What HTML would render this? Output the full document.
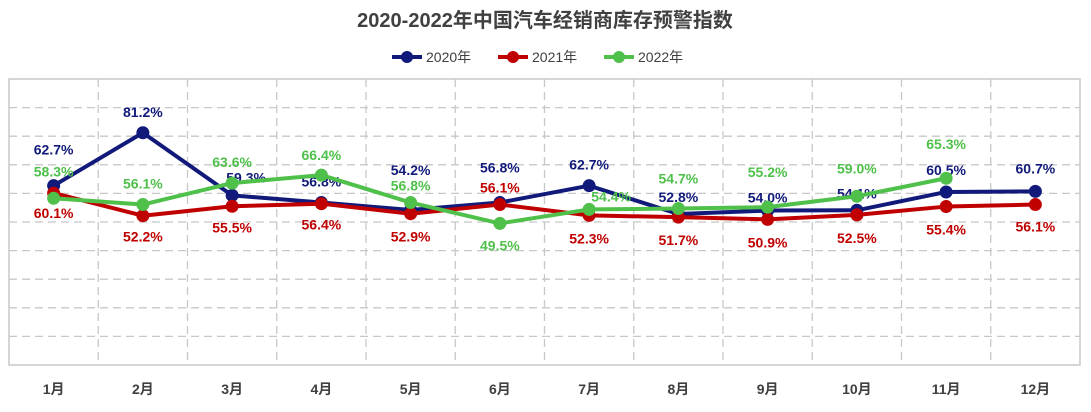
<!DOCTYPE html>
<html><head><meta charset="utf-8"><style>
body{margin:0;background:#fff;}
svg{display:block;font-family:"Liberation Sans","Noto Sans CJK SC",sans-serif;}
.vl{font-family:"Liberation Sans Narrow","Liberation Sans",sans-serif;}
</style></head><body>
<svg id="c" width="1091" height="412">
<text x="545" y="27" text-anchor="middle" font-size="20" font-weight="bold" fill="#404040">2020-2022年中国汽车经销商库存预警指数</text>
<g id="legend"></g>
<g id="grid"></g>
<g id="series"></g>
<g id="xaxis"></g>
</svg>
<script>
const categories=["1月","2月","3月","4月","5月","6月","7月","8月","9月","10月","11月","12月"];
const s2020=[62.7,81.2,59.3,56.8,54.2,56.8,62.7,52.8,54.0,54.1,60.5,60.7];
const s2021=[60.1,52.2,55.5,56.4,52.9,56.1,52.3,51.7,50.9,52.5,55.4,56.1];
const s2022=[58.3,56.1,63.6,66.4,56.8,49.5,54.4,54.7,55.2,59.0,65.3,null];
const seriesNames=["2020年","2021年","2022年"];
// label layout offsets (pixels relative to marker center), not data
const dy2020=[-36,-21,-18,-21,-40,-35,-21,-17,-13,-17,-22,-23];
const dx2020=[0,0,14,0,0,0,0,0,0,0,0,0];
const dy2021=[20,21,21,21,23,-17,23,23,23,23,23,22];
const dx2021=[0,0,0,0,0,0,0,0,0,0,0,0];
const dy2022=[-27,-21,-21,-20,-17,22,-13,-30,-35,-28,-34,0];
const dx2022=[0,0,0,0,0,0,22,0,0,0,0,0];
const NS="http://www.w3.org/2000/svg";
const L=9,R=1080,T=79,B=365,yMin=0,yMax=100;
const bw=(R-L)/categories.length;
const x=i=>L+bw*(i+0.5);
const y=v=>B-(v-yMin)/(yMax-yMin)*(B-T);
function mk(t,a,p){const e=document.createElementNS(NS,t);for(const k in a)e.setAttribute(k,a[k]);p.appendChild(e);return e;}
const grid=document.getElementById('grid');
for(let k=1;k<10;k++){const gy=T+(B-T)*k/10;const l=mk('line',{x1:L,x2:R,y1:gy,y2:gy,stroke:'#c8c8c8','stroke-dasharray':'8,5','stroke-width':1.3},grid);
}
for(let i=1;i<categories.length;i++){const gx=L+bw*i;const l=mk('line',{x1:gx,x2:gx,y1:T,y2:B,stroke:'#c8c8c8','stroke-dasharray':'8,5','stroke-width':1.3},grid);
}
const fr=mk('rect',{x:L,y:T,width:R-L,height:B-T,fill:'none',stroke:'#c8c8c8','stroke-width':1.5},grid);

const xa=document.getElementById('xaxis');
categories.forEach((c,i)=>{const t=mk('text',{x:x(i),y:394,'text-anchor':'middle','font-size':14,'font-weight':'bold',fill:'#404040'},xa);t.textContent=c;
});
const colors=["#111a7a","#c00000","#4fc04a"];
const data=[s2020,s2021,s2022];
const dys=[dy2020,dy2021,dy2022],dxs=[dx2020,dx2021,dx2022];
const sg=document.getElementById('series');
data.forEach((d,si)=>{
 const g=mk('g',{},sg);
 const pts=d.map((v,i)=>v==null?null:[x(i),y(v)]).filter(p=>p);
 const pl=mk('polyline',{points:pts.map(p=>p.join(',')).join(' '),fill:'none',stroke:colors[si],'stroke-width':4,'stroke-linejoin':'round'},g);
 
 d.forEach((v,i)=>{if(v==null)return;
  const c=mk('circle',{cx:x(i),cy:y(v),r:6.5,fill:colors[si]},g);
  
  const t=mk('text',{class:'vl',x:x(i)+dxs[si][i],y:y(v)+dys[si][i]+5,'text-anchor':'middle','font-size':14,'font-weight':'bold',fill:colors[si]},g);
  t.textContent=v.toFixed(1)+'%';
  
 });
});
const lg=document.getElementById('legend');
const lx=[392,498,604];
seriesNames.forEach((n,i)=>{
 const g=mk('g',{},lg);
 mk('line',{x1:lx[i],x2:lx[i]+30,y1:57,y2:57,stroke:colors[i],'stroke-width':4},g);
 mk('circle',{cx:lx[i]+15,cy:57,r:6,fill:colors[i]},g);
 const t=mk('text',{x:lx[i]+34,y:62,'font-size':14,fill:'#404040'},g);t.textContent=n;
});
</script>
</body></html>
